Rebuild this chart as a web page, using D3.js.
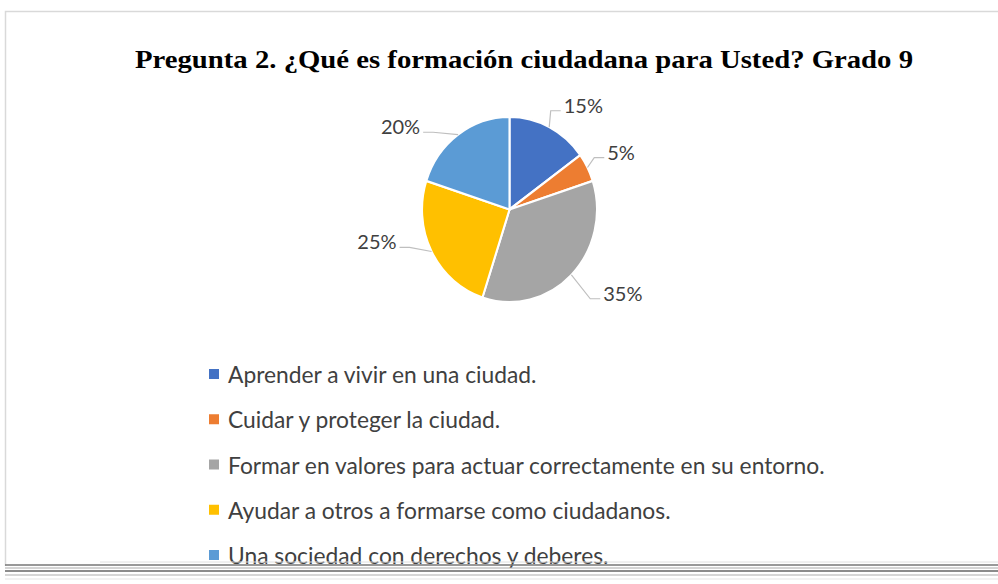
<!DOCTYPE html>
<html>
<head>
<meta charset="utf-8">
<script src="https://cdn.jsdelivr.net/npm/d3@7"></script>
<style>
  html, body { margin: 0; padding: 0; background: #fff; }
  svg { display: block; }
</style>
</head>
<body>
<svg id="chart" width="998" height="584"></svg>
<script>
// ---- data ----
const title = "Pregunta 2. ¿Qué es formación ciudadana para Usted? Grado 9";
const categories = [
  "Aprender a vivir en una ciudad.",
  "Cuidar y proteger la ciudad.",
  "Formar en valores para actuar correctamente en su entorno.",
  "Ayudar a otros a formarse como ciudadanos.",
  "Una sociedad con derechos y deberes."
];
const values = [15, 5, 35, 25, 20];
const colors = ["#4472C4", "#ED7D31", "#A5A5A5", "#FFC000", "#5B9BD5"];

// ---- layout ----
const W = 998, H = 584;
const cx = 509.5, cy = 209.5, ry = 92.5, sx = 87.5 / 92.5;
const labelNudge = [[19, 9], [4, 0], [28, -7], [-25, -26], [-38, 20]];

const svg = d3.select("#chart");

// frame
svg.append("path")
  .attr("d", `M${W},11.5 H5.5 V566`)
  .attr("fill", "none").attr("stroke", "#d9d9d9").attr("stroke-width", 1.5);

// title
svg.append("text")
  .attr("x", 524).attr("y", 68)
  .attr("text-anchor", "middle")
  .attr("font-family", "'Liberation Serif', 'Times New Roman', serif")
  .attr("font-weight", "bold").attr("font-size", 26)
  .attr("fill", "#000")
  .attr("textLength", 778).attr("lengthAdjust", "spacingAndGlyphs")
  .text(title);

// pie
const total = d3.sum(values);
const pie = d3.pie().sort(null).value(d => d)(values);
const arc = d3.arc().innerRadius(0).outerRadius(ry);
const g = svg.append("g").attr("transform", `translate(${cx},${cy}) scale(${sx},1)`);
g.selectAll("path.slice").data(pie).join("path")
  .attr("class", "slice")
  .attr("d", arc)
  .attr("fill", (d, i) => colors[i])
  .attr("stroke", "#fff").attr("stroke-width", 2.2);

// labels with leaders
const fmt = d => Math.round(d / total * 100) + "%";
const lbl = svg.append("g");
pie.forEach((d, i) => {
  const mid = (d.startAngle + d.endAngle) / 2;
  const s = Math.sin(mid), c = Math.cos(mid);
  const ex = cx + s * ry * sx, ey = cy - c * ry;
  const bx = cx + s * ry * sx * 1.38 + labelNudge[i][0];
  const by = cy - c * ry * 1.38 + labelNudge[i][1];
  const t = lbl.append("text")
    .attr("x", bx).attr("y", by)
    .attr("text-anchor", "middle").attr("dominant-baseline", "central")
    .attr("font-family", "Lato, 'Open Sans', sans-serif").attr("font-size", 20)
    .attr("fill", "#404040")
    .text(fmt(d.data));
  const w = t.node().getComputedTextLength();
  const right = s > 0;
  const edge = right ? bx - w / 2 - 3 : bx + w / 2 + 3;
  const elbow = right ? edge - 10 : edge + 10;
  const ly = by + 6;
  lbl.append("polyline")
    .attr("points", `${ex},${ey} ${elbow},${ly} ${edge},${ly}`)
    .attr("fill", "none").attr("stroke", "#bfbfbf").attr("stroke-width", 1.2);
});

// legend
const legY = d3.scalePoint().domain(d3.range(categories.length)).range([374, 555]);
const leg = svg.append("g");
categories.forEach((name, i) => {
  const y = legY(i);
  leg.append("rect").attr("x", 209).attr("y", y - 5).attr("width", 10).attr("height", 10)
    .attr("fill", colors[i]);
  leg.append("text").attr("x", 228).attr("y", y)
    .attr("dominant-baseline", "central")
    .attr("font-family", "Lato, 'Open Sans', sans-serif").attr("font-size", 22.8)
    .attr("fill", "#404040")
    .text(name);
});

// scan artefacts at the bottom edge
const streaks = [
  {y: 562, x0: 100, x1: 998, c: "#e0e0e0", w: 1},
  {y: 565, x0: 5, x1: 998, c: "#777", w: 1.3},
  {y: 568, x0: 5, x1: 998, c: "#aaa", w: 1},
  {y: 571, x0: 5, x1: 998, c: "#666", w: 1.3},
  {y: 575, x0: 5, x1: 998, c: "#c8c8c8", w: 1.5},
  {y: 579, x0: 5, x1: 998, c: "#eee", w: 1.5}
];
svg.append("g").selectAll("line").data(streaks).join("line")
  .attr("x1", d => d.x0).attr("x2", d => d.x1)
  .attr("y1", d => d.y).attr("y2", d => d.y)
  .attr("stroke", d => d.c).attr("stroke-width", d => d.w);
</script>
</body>
</html>
